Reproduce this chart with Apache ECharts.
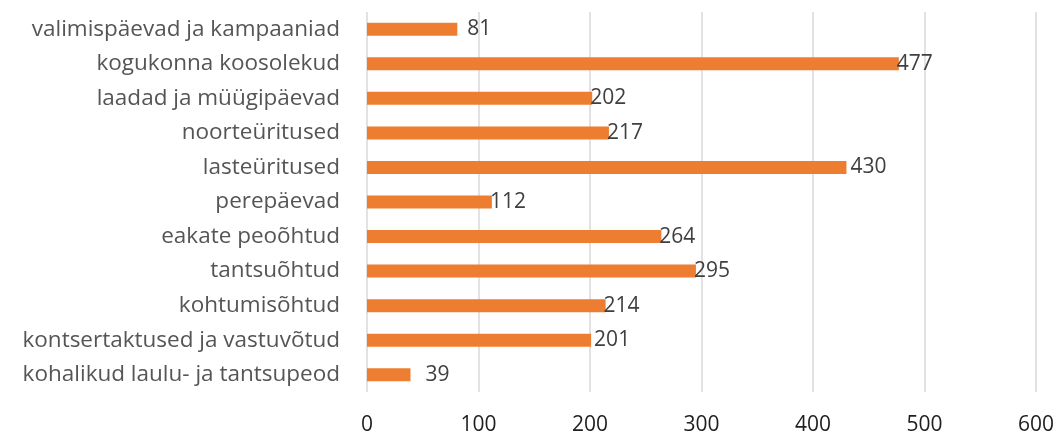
<!DOCTYPE html>
<html>
<head>
<meta charset="utf-8">
<script src="https://cdn.jsdelivr.net/npm/echarts@6/dist/echarts.min.js"></script>
<style>html,body{margin:0;padding:0;background:#fff;}#c{width:1061px;height:437px;}</style>
</head>
<body>
<div id="c"></div>
<script>
var categories = [
  "valimispäevad ja kampaaniad",
  "kogukonna koosolekud",
  "laadad ja müügipäevad",
  "noorteüritused",
  "lasteüritused",
  "perepäevad",
  "eakate peoõhtud",
  "tantsuõhtud",
  "kohtumisõhtud",
  "kontsertaktused ja vastuvõtud",
  "kohalikud laulu- ja tantsupeod"
];
var values = [81, 477, 202, 217, 430, 112, 264, 295, 214, 201, 39];
var xTicks = [0, 100, 200, 300, 400, 500, 600];

// label gap tweaks (style only), keyed by category
var labelGap = {"valimispäevad ja kampaaniad": 10, "kohalikud laulu- ja tantsupeod": 15, "lasteüritused": 4, "kontsertaktused ja vastuvõtud": 3};

var chart = echarts.init(document.getElementById('c'));
chart.setOption({
  animation: false,
  grid: {left: 367, right: 25, top: 12, bottom: 45},
  xAxis: {
    type: 'value', min: xTicks[0], max: xTicks[xTicks.length - 1], interval: 100,
    axisLine: {show: false}, axisTick: {show: false},
    splitLine: {lineStyle: {color: '#d9d9d9', width: 1.5}},
    axisLabel: {color: '#1e1e1e', fontSize: 21, margin: 23, fontFamily: 'Open Sans'}
  },
  yAxis: {
    type: 'category', data: categories, inverse: true,
    axisLine: {show: false}, axisTick: {show: false},
    axisLabel: {color: '#555555', fontSize: 22.5, margin: 27, fontFamily: 'Open Sans'}
  },
  series: [{
    type: 'bar', barWidth: 13,
    data: values.map(function (v, i) {
      var g = labelGap[categories[i]];
      return g === undefined ? v : {value: v, label: {distance: g}};
    }),
    itemStyle: {color: '#ed7d31'},
    label: {show: true, position: 'right', distance: -2, color: '#404040', fontSize: 21, fontFamily: 'Open Sans'}
  }]
});
</script>
</body>
</html>
